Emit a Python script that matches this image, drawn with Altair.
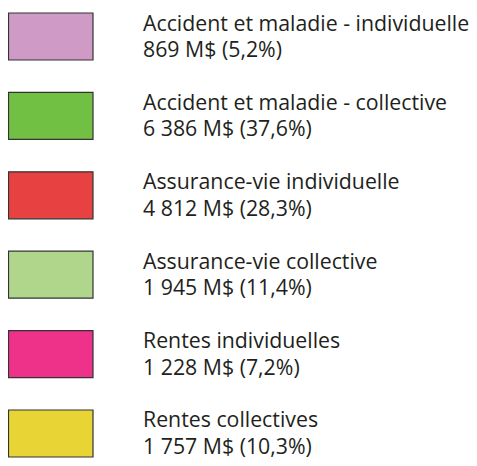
import altair as alt
import pandas as pd

categories = [
    "Accident et maladie - individuelle",
    "Accident et maladie - collective",
    "Assurance-vie individuelle",
    "Assurance-vie collective",
    "Rentes individuelles",
    "Rentes collectives",
]
amounts = ["869 M$", "6 386 M$", "4 812 M$", "1 945 M$", "1 228 M$", "1 757 M$"]
shares = ["5,2%", "37,6%", "28,3%", "11,4%", "7,2%", "10,3%"]
colors = ["#CF9AC5", "#72C043", "#E84142", "#B0D68C", "#EE3189", "#E8D535"]

df = pd.DataFrame({
    "cat": categories,
    "line2": [f"{a} ({s})" for a, s in zip(amounts, shares)],
})

yscale = alt.Scale(domain=categories, range=[5, 449], paddingInner=0.408, paddingOuter=0)
y = alt.Y("cat:N", scale=yscale, axis=None)

rects = alt.Chart(df).mark_rect(stroke="#333333", strokeWidth=1.2).encode(
    y=y,
    x=alt.value(0.5),
    x2=alt.value(85),
    color=alt.Color("cat:N", scale=alt.Scale(domain=categories, range=colors), legend=None),
)

font = "Open Sans"
fs = 21.3
t1 = alt.Chart(df).mark_text(align="left", baseline="alphabetic", dy=-6, fontSize=fs,
                             font=font, color="#231F20").encode(
    y=y, x=alt.value(135), text="cat:N")
t2 = alt.Chart(df).mark_text(align="left", baseline="alphabetic", dy=20.5, fontSize=fs,
                             font=font, color="#231F20").encode(
    y=y, x=alt.value(135), text="line2:N")

chart = alt.layer(rects, t1, t2).properties(
    width=461, height=458, padding=0, autosize="none"
).configure_view(stroke=None)

chart.save("out.html", embed_options={"renderer": "svg", "actions": False})
